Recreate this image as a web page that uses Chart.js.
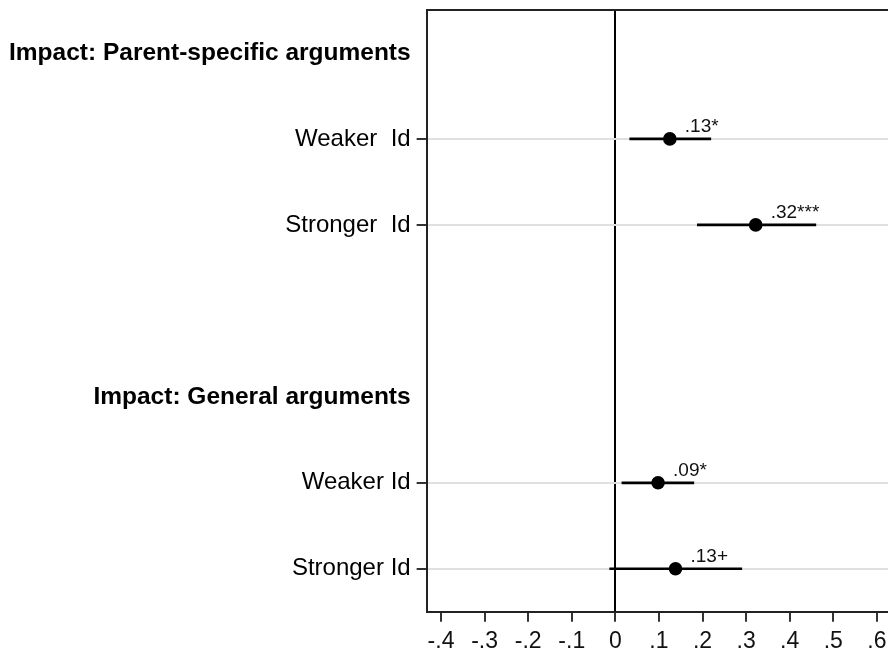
<!DOCTYPE html>
<html>
<head>
<meta charset="utf-8">
<script src="https://cdn.jsdelivr.net/npm/chart.js@4.4.0/dist/chart.umd.min.js"></script>
<style>
    html, body { margin: 0; padding: 0; background: #fff; overflow: hidden; }
    /* canvas runs a little past the window on the right: the reference frame is cut off there */
    #wrap { width: 895px; height: 653px; position: relative; }
</style>
</head>
<body>
<div id="wrap"><canvas id="coefChart"></canvas></div>
<script>
const rowLabels = ['Impact: Parent-specific arguments', 'Weaker  Id', 'Stronger  Id', '', 'Impact: General arguments', 'Weaker Id', 'Stronger Id'];
const headingRows = [0, 4];
const estimates = [null, 0.125, 0.322, null, null, 0.098, 0.138];
const ciLow = [null, 0.033, 0.188, null, null, 0.015, -0.013];
const ciHigh = [null, 0.219, 0.460, null, null, 0.180, 0.290];
const starLabels = ['', '.13*', '.32***', '', '', '.09*', '.13+'];
const xTicks = [-0.4, -0.3, -0.2, -0.1, 0, 0.1, 0.2, 0.3, 0.4, 0.5, 0.6];

const FONT = "'Liberation Sans', Arial, sans-serif";

function hasEstimate(i) {
    return estimates[i] !== null && estimates[i] !== undefined;
}

function fmtTick(v) {
    const r = Math.round(v * 10) / 10;
    if (r === 0) return '0';
    return r.toFixed(1).replace('0.', '.');
}

// top frame line + the coefficient labels next to each marker
const coefExtras = {
    id: 'coefExtras',
    afterDatasetsDraw(chart) {
        const { ctx, chartArea } = chart;
        ctx.save();
        ctx.strokeStyle = '#222';
        ctx.lineWidth = 2;
        ctx.beginPath();
        ctx.moveTo(chartArea.left, chartArea.top);
        ctx.lineTo(chartArea.right, chartArea.top);
        ctx.stroke();

        const meta = chart.getDatasetMeta(1);
        ctx.fillStyle = '#111';
        ctx.font = '19px ' + FONT;
        ctx.textAlign = 'left';
        ctx.textBaseline = 'middle';
        meta.data.forEach((pt, i) => {
            if (!hasEstimate(i)) return;
            ctx.fillText(starLabels[i], pt.x + 15, pt.y - 12);
        });
        ctx.restore();
    }
};

new Chart(document.getElementById('coefChart'), {
    type: 'bar',
    data: {
        labels: rowLabels,
        datasets: [{
            label: 'CI',
            data: rowLabels.map((_, i) => hasEstimate(i) ? [ciLow[i], ciHigh[i]] : null),
            backgroundColor: '#000',
            borderWidth: 0,
            barThickness: 2,
            order: 2
        }, {
            type: 'line',
            label: 'Estimate',
            indexAxis: 'y',
            data: estimates,
            showLine: false,
            pointRadius: 6.8,
            pointHoverRadius: 6.8,
            pointBackgroundColor: '#000',
            pointBorderWidth: 0,
            order: 1
        }]
    },
    options: {
        indexAxis: 'y',
        responsive: true,
        maintainAspectRatio: false,
        animation: false,
        layout: { padding: { left: 3, top: 0, right: 0, bottom: -8.7 } },
        plugins: {
            legend: { display: false },
            tooltip: { enabled: false }
        },
        scales: {
            x: {
                type: 'linear',
                min: -0.433,
                max: 0.626,
                afterBuildTicks: (scale) => {
                    scale.ticks = xTicks.map(v => ({ value: v }));
                },
                grid: {
                    color: (ctx) => (ctx.tick && Math.abs(ctx.tick.value) < 1e-9) ? '#000' : 'transparent',
                    lineWidth: 2,
                    tickColor: '#333',
                    tickLength: 10,
                    drawTicks: true
                },
                border: { display: true, color: '#222', width: 2 },
                ticks: {
                    color: '#111',
                    padding: 1,
                    font: { family: FONT, size: 23, lineHeight: 1.65 },
                    maxRotation: 0,
                    autoSkip: false,
                    callback: (v) => fmtTick(v)
                }
            },
            y: {
                type: 'category',
                offset: true,
                grid: {
                    offset: false,
                    color: (ctx) => hasEstimate(ctx.index) ? '#e0e0e0' : 'transparent',
                    lineWidth: 2,
                    tickColor: (ctx) => hasEstimate(ctx.index) ? '#333' : 'transparent',
                    tickLength: 10
                },
                border: { display: true, color: '#222', width: 2 },
                ticks: {
                    color: '#000',
                    padding: 6,
                    autoSkip: false,
                    font: (ctx) => headingRows.includes(ctx.index)
                        ? { family: FONT, size: 24.5, weight: 'bold', lineHeight: 0.33 }
                        : { family: FONT, size: 24, weight: 'normal', lineHeight: 0.33 }
                }
            }
        }
    },
    plugins: [coefExtras]
});
</script>
</body>
</html>
